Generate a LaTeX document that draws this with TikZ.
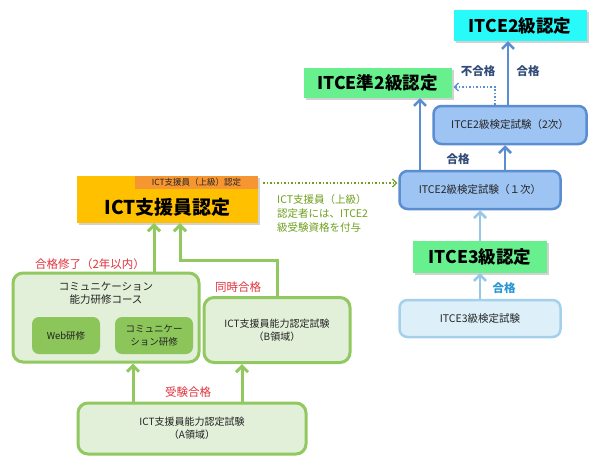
\documentclass[tikz,border=0pt]{standalone}
\usepackage{fontspec}
\setmainfont{Noto Sans CJK JP}
\usetikzlibrary{arrows.meta,shadows}
\definecolor{gline}{RGB}{146,200,96}
\definecolor{gfill}{RGB}{226,239,217}
\definecolor{webfill}{RGB}{140,198,90}
\definecolor{redlab}{RGB}{225,50,60}
\definecolor{bline}{RGB}{91,141,209}
\definecolor{bfill}{RGB}{158,196,243}
\definecolor{lbline}{RGB}{165,208,236}
\definecolor{lbfill}{RGB}{221,240,250}
\definecolor{lbarrow}{RGB}{150,200,230}
\definecolor{bluelab}{RGB}{40,150,210}
\definecolor{darklab}{RGB}{50,75,120}
\definecolor{cyanbox}{RGB}{40,250,250}
\definecolor{greenhead}{RGB}{104,240,142}
\definecolor{orangebox}{RGB}{255,192,0}
\definecolor{tabcol}{RGB}{245,150,50}
\definecolor{olive}{RGB}{110,160,30}
\definecolor{textgray}{RGB}{35,35,35}
\tikzset{
  gbox/.style={draw=gline, line width=3pt, fill=gfill, rounded corners=10pt, align=center, inner sep=0pt, text=textgray, font=\fontsize{10}{13}\selectfont},
  subbox/.style={fill=webfill, rounded corners=7pt, align=center, inner sep=0pt, text=textgray, font=\fontsize{9.5}{13}\selectfont},
  garrow/.style={draw=gline, line width=3pt, -{Straight Barb[length=6pt,width=12pt,line width=3pt]}},
  bbox/.style={draw=bline, line width=2.5pt, fill=bfill, rounded corners=8pt, align=center, inner sep=0pt, text=textgray, font=\fontsize{10.5}{12}\selectfont},
  lbbox/.style={draw=lbline, line width=2.5pt, fill=lbfill, rounded corners=8pt, align=center, inner sep=0pt, text=textgray, font=\fontsize{10.5}{12}\selectfont},
  barrow/.style={draw=bline, line width=2.5pt, -{Straight Barb[length=6pt,width=12pt,line width=2.5pt]}},
  lbarrowst/.style={draw=lbarrow, line width=2.5pt, -{Straight Barb[length=6pt,width=12pt,line width=2.5pt]}},
  headbox/.style={inner sep=0pt, font=\fontsize{17.5}{20}\selectfont\bfseries, text=black, drop shadow={opacity=0.35, shadow xshift=2pt, shadow yshift=-2pt}},
  redlabel/.style={text=redlab, font=\fontsize{11.5}{13}\selectfont, inner sep=0pt},
  bluelabel/.style={font=\fontsize{11.5}{13}\selectfont\bfseries, inner sep=0pt},
}
\begin{document}
\begin{tikzpicture}[x=1pt,y=-1pt]
\path[use as bounding box, fill=white] (0,0) rectangle (602,466);

% ---- right column (ITCE) ----
\node[headbox, fill=cyanbox, minimum width=133pt, minimum height=31pt] (itce2) at (520,25.5) {ITCE2級認定};
\node[headbox, fill=greenhead, minimum width=148pt, minimum height=30pt] (jun2) at (377.5,83) {ITCE準2級認定};
\node[bbox, minimum width=153pt, minimum height=38pt] (n2) at (510,125) {ITCE2級検定試験（2次）};
\node[bbox, minimum width=161pt, minimum height=38pt] (n1) at (480,190) {ITCE2級検定試験（１次）};
\node[headbox, fill=greenhead, minimum width=134pt, minimum height=32pt] (itce3) at (480,257) {ITCE3級認定};
\node[lbbox, minimum width=161pt, minimum height=37pt] (n3) at (480,318.5) {ITCE3級検定試験};

\draw[barrow] ([xshift=-2pt]n2.north) -- ([xshift=-2pt]n2.north |- itce2.south);
\draw[bline, line width=1.5pt, dotted, -{Straight Barb[length=4pt,width=8pt,line width=1.2pt]}]
  ([xshift=-15pt]n2.north) |- ([yshift=-4pt,xshift=2pt]jun2.east);
\node[bluelabel, text=darklab] (lfail) at (478,71) {不合格};
\node[bluelabel, text=darklab] (lpass2) at (528,71) {合格};

\draw[barrow] ([xshift=-60pt]n1.north) -- ([xshift=-60pt]n1.north |- jun2.south);
\draw[barrow] ([xshift=25pt]n1.north) -- ([xshift=25pt]n1.north |- n2.south);
\node[bluelabel, text=darklab] (lpass1) at (458,159) {合格};

\draw[lbarrowst] (itce3.north) -- (n1.south);
\draw[lbarrowst] (n3.north) -- (itce3.south);
\node[bluelabel, text=bluelab] (lpass3) at (504,288) {合格};

% ---- left side (ICT) ----
\node[inner sep=0pt, fill=orangebox, minimum width=181pt, minimum height=47pt,
  drop shadow={opacity=0.35, shadow xshift=2pt, shadow yshift=-2pt}] (ictmain) at (167.5,199.5) {};
\node[inner sep=0pt, font=\fontsize{19}{22}\selectfont\bfseries] (icttext) at (167.5,207) {ICT支援員認定};
\node[inner sep=0pt, fill=tabcol, minimum width=123pt, minimum height=13pt, anchor=north east,
  font=\fontsize{8.5}{9}\selectfont, text=textgray] (icttab) at (ictmain.north east) {ICT支援員（上級）認定};

\coordinate (dy) at (0,183);
\draw[olive, line width=1.5pt, dotted, -{Straight Barb[length=4pt,width=8pt,line width=1.2pt]}]
  ([xshift=5pt]ictmain.east |- dy) -- ([xshift=-1pt]n1.west |- dy);
\node[anchor=north west, align=left, inner sep=0pt, text=olive, font=\fontsize{10.5}{14}\selectfont] (note) at (277,194)
  {ICT支援員（上級）\\認定者には、ITCE2\\級受験資格を付与};

\node[gbox, minimum width=186pt, minimum height=89pt] (comm) at (106,317.5) {};
\node[inner sep=0pt, align=center, text=textgray, font=\fontsize{10.5}{13}\selectfont] (commtext) at (106,293.5) {コミュニケーション\\能力研修コース};
\node[subbox, minimum width=68pt, minimum height=37pt] (web) at (66,335.5) {Web研修};
\node[subbox, minimum width=78pt, minimum height=37pt] (commtr) at (154,335.5) {コミュニケー\\ション研修};

\node[gbox, minimum width=146pt, minimum height=65pt] (bbox) at (277,330) {ICT支援員能力認定試験\\（B領域）};
\node[gbox, minimum width=228pt, minimum height=51pt] (abox) at (192,428.5) {ICT支援員能力認定試験\\（A領域）};

\coordinate (xa) at (154,0);
\coordinate (cc) at (180,260);
\coordinate (xc) at (133,0);
\coordinate (xd) at (242,0);
\draw[garrow] (comm.north -| xa) -- (ictmain.south -| xa);
\draw[garrow] (bbox.north) |- (cc) -- (ictmain.south -| cc);
\draw[garrow] (abox.north -| xc) -- (comm.south -| xc);
\draw[garrow] (abox.north -| xd) -- (bbox.south -| xd);

\node[redlabel] (lcomp) at (90,264) {合格修了（2年以内）};
\node[redlabel] (lsim) at (238,287) {同時合格};
\node[redlabel] (lexam) at (188,392) {受験合格};
\end{tikzpicture}
\end{document}
